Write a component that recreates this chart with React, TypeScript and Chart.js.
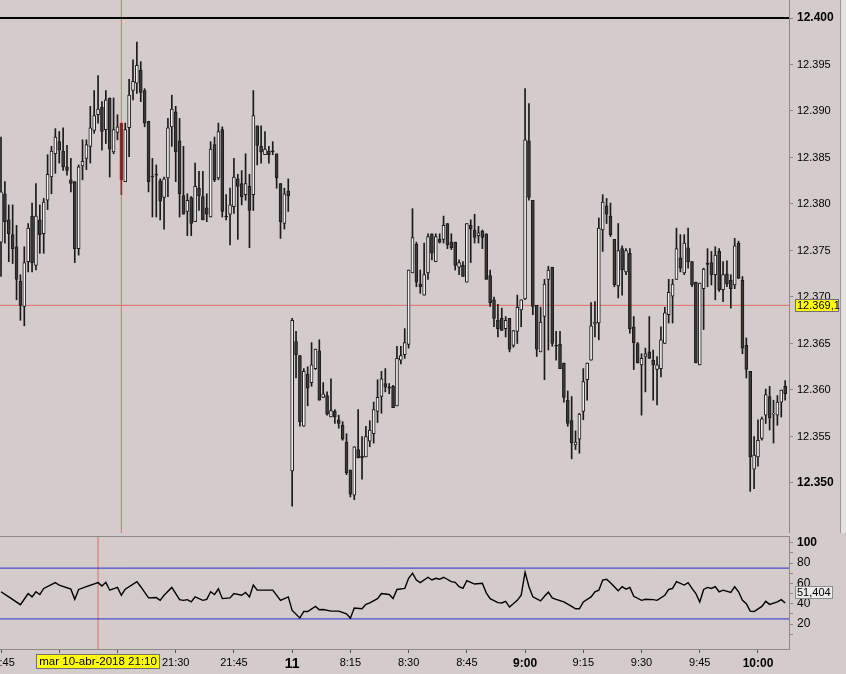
import React, { useEffect, useRef } from 'react';
import { Chart, Plugin } from 'chart.js/auto';

// 1-minute DAX bars, 10-abr-2018 20:45 -> 11-abr-2018 10:07 (bar index = minute slot)
const opens = [
    12375.9, 12381.1, 12378.3, 12376.7, 12375.4, 12371.7, 12369.0, 12373.8, 12378.7, 12373.4,
    12378.3, 12376.8, 12380.4, 12382.9, 12385.4, 12386.7, 12385.7, 12384.0, 12382.6, 12382.4,
    12375.2, 12384.1, 12384.9, 12386.2, 12387.9, 12389.6, 12390.4, 12388.0, 12391.4, 12385.6,
    12387.7, 12388.7, 12382.4, 12388.2, 12392.2, 12393.0, 12394.4, 12392.2, 12388.9, 12383.0,
    12383.2, 12382.5, 12380.7, 12382.8, 12388.3, 12389.9, 12386.8, 12380.9, 12379.2, 12380.7,
    12378.1, 12381.7, 12380.8, 12379.6, 12378.6, 12386.4, 12382.8, 12388.0, 12378.6, 12378.9,
    12379.7, 12382.7, 12382.2, 12381.0, 12381.9, 12381.0, 12388.4, 12386.2, 12385.3, 12385.7,
    12385.6, 12385.4, 12382.2, 12377.9, 12381.4, 12351.3, 12365.2, 12363.7, 12356.1, 12361.7,
    12360.8, 12362.3, 12364.2, 12359.2, 12359.4, 12357.1, 12357.7, 12356.8, 12356.2, 12354.4,
    12351.4, 12348.7, 12353.6, 12352.9, 12352.8, 12354.5, 12355.3, 12357.7, 12359.3, 12360.7,
    12360.2, 12360.4, 12358.3, 12363.2, 12363.8, 12364.9, 12372.6, 12375.7, 12371.4, 12370.2,
    12372.6, 12376.8, 12373.8, 12376.2, 12376.2, 12377.9, 12375.9, 12375.9, 12373.2, 12373.4,
    12371.6, 12377.7, 12377.2, 12376.6, 12377.1, 12376.8, 12372.3, 12369.7, 12367.5, 12367.7,
    12366.6, 12367.7, 12364.8, 12366.3, 12368.6, 12369.8, 12386.8, 12380.4, 12369.1, 12364.1,
    12367.9, 12371.9, 12373.2, 12364.7, 12364.9, 12362.9, 12358.9, 12356.7, 12354.1, 12354.7,
    12357.7, 12361.1, 12363.2, 12367.1, 12367.2, 12377.2, 12379.8, 12378.7, 12376.2, 12371.2,
    12375.2, 12372.7, 12374.7, 12366.8, 12365.0, 12362.7, 12363.6, 12364.1, 12363.2, 12362.2,
    12362.3, 12365.0, 12368.1, 12370.1, 12371.9, 12374.2, 12372.6, 12375.3, 12373.8, 12371.6,
    12362.7, 12370.9, 12373.5, 12373.7, 12372.4, 12374.9, 12370.8, 12372.5, 12371.8, 12371.3,
    12375.8, 12371.8, 12364.8, 12362.0, 12351.5, 12352.8, 12354.8, 12357.3, 12359.3, 12357.4,
    12357.3, 12358.7, 12360.4,
];
const highs = [
    12387.2, 12382.4, 12379.9, 12379.9, 12377.7, 12372.4, 12375.4, 12377.9, 12380.1, 12382.2,
    12379.9, 12380.6, 12385.3, 12386.2, 12388.1, 12387.8, 12388.2, 12386.3, 12384.9, 12382.4,
    12384.2, 12386.9, 12386.9, 12390.5, 12392.2, 12393.8, 12391.0, 12392.2, 12391.4, 12391.4,
    12389.6, 12388.7, 12388.7, 12393.4, 12395.5, 12397.4, 12395.3, 12392.4, 12388.9, 12384.9,
    12384.2, 12382.7, 12382.9, 12389.2, 12391.7, 12390.5, 12389.2, 12386.2, 12381.1, 12380.8,
    12384.4, 12383.5, 12383.5, 12381.1, 12386.7, 12387.2, 12388.7, 12388.3, 12381.0, 12381.7,
    12384.9, 12383.2, 12383.6, 12385.4, 12383.2, 12392.2, 12388.4, 12388.4, 12387.8, 12386.2,
    12386.7, 12385.4, 12382.2, 12381.7, 12382.7, 12367.7, 12366.3, 12363.7, 12362.3, 12362.5,
    12365.1, 12364.4, 12365.4, 12360.8, 12359.8, 12361.2, 12357.9, 12357.3, 12356.6, 12355.3,
    12351.4, 12353.9, 12357.9, 12355.0, 12356.1, 12356.7, 12358.7, 12361.1, 12362.0, 12362.3,
    12360.7, 12360.5, 12364.7, 12364.7, 12366.6, 12372.9, 12379.5, 12375.9, 12372.9, 12375.8,
    12376.8, 12376.8, 12376.8, 12376.8, 12378.7, 12377.9, 12376.8, 12375.9, 12374.0, 12373.8,
    12377.9, 12378.3, 12378.9, 12377.6, 12377.2, 12376.8, 12372.9, 12370.0, 12369.2, 12368.8,
    12367.9, 12367.7, 12366.4, 12370.2, 12369.7, 12392.4, 12390.8, 12380.4, 12369.1, 12368.9,
    12371.9, 12373.3, 12373.2, 12366.3, 12366.3, 12362.9, 12359.9, 12359.3, 12355.6, 12357.5,
    12362.3, 12362.9, 12369.4, 12369.5, 12378.5, 12381.0, 12380.6, 12380.1, 12376.2, 12377.9,
    12375.5, 12375.2, 12375.2, 12367.9, 12365.1, 12363.9, 12364.5, 12367.9, 12364.3, 12363.6,
    12366.8, 12368.9, 12371.9, 12371.9, 12377.4, 12376.7, 12376.7, 12377.4, 12373.8, 12371.6,
    12371.5, 12373.1, 12375.2, 12374.9, 12375.4, 12375.2, 12373.8, 12373.9, 12372.4, 12376.3,
    12376.0, 12372.2, 12365.6, 12362.0, 12355.0, 12356.8, 12357.1, 12360.1, 12360.4, 12358.9,
    12359.4, 12360.0, 12361.0,
];
const lows = [
    12372.2, 12375.8, 12373.8, 12373.6, 12369.7, 12367.5, 12366.9, 12372.7, 12372.7, 12372.9,
    12374.7, 12374.7, 12379.4, 12381.1, 12383.3, 12384.4, 12383.6, 12383.1, 12381.3, 12373.7,
    12374.5, 12382.6, 12383.7, 12384.4, 12387.6, 12388.7, 12385.8, 12386.5, 12382.9, 12385.4,
    12386.9, 12381.0, 12382.4, 12385.1, 12391.2, 12391.9, 12391.0, 12388.3, 12381.3, 12378.6,
    12378.6, 12378.3, 12377.3, 12380.8, 12386.2, 12382.4, 12378.6, 12378.9, 12376.6, 12376.6,
    12378.1, 12379.3, 12378.3, 12378.1, 12378.6, 12382.4, 12382.6, 12378.6, 12378.3, 12375.6,
    12379.0, 12376.2, 12379.9, 12380.4, 12375.3, 12379.3, 12384.2, 12384.4, 12385.3, 12384.4,
    12385.3, 12381.7, 12376.3, 12377.3, 12379.2, 12347.5, 12361.3, 12356.1, 12356.1, 12358.3,
    12360.4, 12362.2, 12358.9, 12359.2, 12357.3, 12357.1, 12356.4, 12355.9, 12354.6, 12350.9,
    12348.5, 12348.2, 12352.7, 12350.4, 12352.8, 12353.9, 12354.3, 12356.5, 12357.5, 12359.8,
    12359.6, 12358.1, 12358.3, 12362.8, 12363.4, 12364.5, 12372.6, 12371.1, 12370.4, 12370.2,
    12371.9, 12374.0, 12373.8, 12375.8, 12375.8, 12375.2, 12375.1, 12372.9, 12372.4, 12372.2,
    12371.6, 12373.7, 12375.8, 12375.8, 12375.2, 12371.9, 12369.0, 12366.8, 12365.7, 12366.4,
    12365.7, 12364.1, 12364.6, 12365.0, 12366.8, 12369.7, 12380.4, 12368.1, 12363.6, 12364.1,
    12361.1, 12364.3, 12364.7, 12363.2, 12362.3, 12358.7, 12356.1, 12352.6, 12353.6, 12353.2,
    12356.8, 12358.9, 12363.2, 12365.7, 12365.4, 12374.9, 12377.9, 12376.5, 12371.1, 12369.9,
    12370.2, 12372.4, 12366.1, 12362.2, 12362.9, 12357.3, 12359.8, 12363.4, 12358.9, 12358.4,
    12361.4, 12365.0, 12367.2, 12367.2, 12371.9, 12372.7, 12372.4, 12373.1, 12371.1, 12362.9,
    12362.7, 12366.5, 12371.1, 12371.3, 12369.7, 12370.6, 12369.5, 12371.1, 12368.8, 12370.9,
    12372.0, 12363.9, 12361.3, 12349.1, 12349.4, 12351.8, 12354.6, 12356.4, 12355.7, 12354.3,
    12356.2, 12357.1, 12358.9,
];
const closes = [
    12381.3, 12378.1, 12376.8, 12375.2, 12371.9, 12369.1, 12373.7, 12377.4, 12373.7, 12378.7,
    12376.7, 12380.2, 12383.2, 12385.7, 12387.2, 12385.8, 12384.0, 12383.6, 12382.2, 12375.2,
    12384.0, 12384.6, 12386.4, 12388.2, 12389.5, 12390.2, 12387.8, 12391.2, 12385.9, 12388.0,
    12388.3, 12382.6, 12388.0, 12391.7, 12393.2, 12394.9, 12392.0, 12388.7, 12382.4, 12382.9,
    12383.1, 12380.3, 12382.7, 12388.2, 12390.2, 12385.6, 12381.1, 12378.9, 12380.4, 12377.9,
    12381.9, 12380.9, 12378.3, 12378.9, 12385.9, 12382.6, 12387.8, 12379.2, 12378.6, 12379.9,
    12382.9, 12381.9, 12380.8, 12382.2, 12379.3, 12389.5, 12386.3, 12385.6, 12385.9, 12385.3,
    12385.6, 12382.8, 12378.1, 12381.1, 12380.9, 12367.5, 12363.8, 12356.6, 12362.0, 12360.2,
    12362.7, 12364.4, 12358.9, 12359.6, 12357.4, 12357.8, 12357.1, 12356.4, 12354.7, 12351.1,
    12348.8, 12353.9, 12352.7, 12352.7, 12355.0, 12355.7, 12357.9, 12359.2, 12361.2, 12360.3,
    12360.2, 12358.1, 12363.4, 12363.7, 12365.1, 12372.9, 12376.4, 12371.6, 12371.1, 12372.4,
    12376.5, 12374.7, 12376.5, 12375.9, 12377.7, 12375.6, 12375.3, 12373.4, 12373.7, 12372.2,
    12377.9, 12377.3, 12376.4, 12376.9, 12376.4, 12371.9, 12369.4, 12367.7, 12366.6, 12366.4,
    12367.5, 12364.4, 12366.4, 12368.9, 12369.7, 12386.9, 12380.7, 12369.0, 12364.4, 12367.3,
    12371.4, 12372.9, 12365.0, 12364.7, 12362.3, 12359.2, 12356.4, 12354.3, 12354.4, 12357.4,
    12360.9, 12362.9, 12366.9, 12367.3, 12377.4, 12380.2, 12378.9, 12376.7, 12371.3, 12375.0,
    12372.9, 12375.0, 12366.6, 12365.1, 12362.9, 12363.4, 12363.9, 12363.4, 12362.7, 12362.7,
    12365.4, 12368.3, 12370.5, 12371.4, 12375.2, 12373.1, 12375.8, 12373.8, 12371.3, 12362.9,
    12371.5, 12373.0, 12373.5, 12372.4, 12374.5, 12370.8, 12372.4, 12371.4, 12370.9, 12375.5,
    12372.0, 12364.5, 12362.2, 12352.8, 12353.0, 12354.6, 12356.9, 12359.5, 12357.0, 12357.5,
    12358.7, 12360.0, 12359.6,
];

// oscillator vertices (bar index, value)
const oscBars = [
    0, 2, 5, 7, 8, 9, 10, 11, 14, 15, 18, 19, 20, 22, 25, 26, 27, 28, 30, 31,
    32, 35, 36, 38, 40, 41, 42, 44, 46, 47, 48, 49, 50, 52, 53, 54, 55, 56, 57, 59,
    60, 62, 63, 64, 65, 66, 70, 72, 74, 75, 77, 78, 79, 81, 82, 83, 85, 87, 89, 90,
    91, 93, 94, 95, 97, 98, 100, 101, 102, 104, 105, 106, 107, 108, 110, 111, 112, 113, 114, 116,
    117, 118, 119, 120, 121, 122, 124, 125, 126, 128, 129, 130, 131, 133, 134, 135, 136, 137, 139, 140,
    141, 142, 143, 145, 147, 148, 149, 150, 152, 153, 154, 155, 156, 157, 159, 160, 161, 162, 163, 165,
    166, 168, 169, 171, 172, 173, 174, 176, 177, 178, 179, 180, 181, 182, 183, 184, 185, 186, 188, 189,
    190, 191, 192, 193, 194, 196, 197, 198, 200, 201, 202,
];
const oscValues = [
    51.7, 46.7, 39, 50, 46.7, 51.7, 49, 55, 60.7, 58.3, 54.3, 44.3, 54, 56.7, 60.7, 57.3, 61, 53.3, 56, 48.3,
    54.3, 61.7, 56.7, 45.7, 46, 43.3, 48.3, 56, 44, 43.3, 44, 41.7, 46.7, 43.3, 44.3, 51.7, 49, 54.7, 45, 45.7,
    50, 48.3, 51, 46.7, 58.3, 53.3, 53.3, 43.3, 46.7, 33.3, 26, 32.3, 32.3, 37.3, 34, 34.3, 32.7, 32.7, 30, 25.7,
    35.7, 35, 39.3, 40.7, 45, 50, 49, 45, 54, 55, 65, 70, 63.3, 60.7, 66, 63.3, 65, 64, 66, 61.7,
    61, 56.7, 55, 62.7, 61, 59.3, 60, 50.7, 45, 41, 40.7, 42.3, 36.7, 43.3, 48.3, 71, 56.7, 46.7, 42.7, 47.3,
    51.3, 45.7, 44.3, 41.7, 37.3, 35, 35, 41.7, 46.7, 51.7, 53.3, 63.3, 64, 60.7, 52.7, 56.7, 54.3, 56, 47.3, 43.3,
    44.3, 44, 43.3, 48.3, 54, 55, 61.7, 58.3, 60.7, 55, 50, 41.7, 54, 56, 55, 56.7, 51.7, 53.3, 51, 56.7,
    51.7, 43.3, 40, 32.7, 32.3, 37.3, 42.3, 39.3, 41.7, 44, 40.7,
];
const oscBands = [75, 25];

const timeTickBars = [0, 15, 30, 45, 60, 75, 90, 105, 120, 135, 150, 165, 180, 195];
const timeTickLabels = ['20:45', '21:00', '21:15', '21:30', '21:45', '11', '8:15', '8:30', '8:45', '9:00', '9:15', '9:30', '9:45', '10:00'];
const priceTicks = [12350, 12355, 12360, 12365, 12370, 12375, 12380, 12385, 12390, 12395, 12400];
const oscTicks = [10, 20, 30, 40, 50, 60, 70, 80, 90, 100];

const topLevel = 12400;
const crossPrice = 12369.1;
const crossBarMain = 31;
const crossBarLower = 25;
const oscLast = 51.404;
const crossTimeText = 'mar 10-abr-2018 21:10';

const BG = '#d4cbcb';
const FRAME = '#8e8888';
const CROSS = '#e46a6a';
const FONT = '"Liberation Sans", Arial, sans-serif';
const X_MIN = -0.26;
const X_MAX = 202.99;
const MAIN_H = 534;
const PX_PER_POINT = 9.3;
const Y_MAX = topLevel + 18 / PX_PER_POINT;
const Y_MIN = Y_MAX - MAIN_H / PX_PER_POINT;
const OSC_MIN = -4.6;
const OSC_MAX = 106.6;

const fmtPrice = (v: number) => v.toLocaleString('de-DE', { minimumFractionDigits: 0, maximumFractionDigits: 0 });

function noPad(scale: any) {
    scale.paddingLeft = 0;
    scale.paddingRight = 0;
    scale.paddingTop = 0;
    scale.paddingBottom = 0;
}

const mainDecor: Plugin = {
    id: 'mainDecor',
    beforeDraw(chart) {
        const { ctx, width, height } = chart;
        ctx.save();
        ctx.fillStyle = BG;
        ctx.fillRect(0, 0, width, height);
        ctx.restore();
    },
    afterDraw(chart) {
        const { ctx, chartArea } = chart;
        const y = Math.round(chart.scales.y.getPixelForValue(crossPrice));
        ctx.save();
        ctx.strokeStyle = FRAME;
        ctx.lineWidth = 1;
        ctx.beginPath();
        ctx.moveTo(0, chartArea.bottom - 0.5);
        ctx.lineTo(chartArea.right, chartArea.bottom - 0.5);
        ctx.stroke();
        // right edge strip of the window
        ctx.fillStyle = '#e6e2e2';
        ctx.fillRect(841, 0, 5, chartArea.bottom);
        ctx.strokeStyle = '#9a9a9a';
        ctx.beginPath();
        ctx.moveTo(840.5, 0);
        ctx.lineTo(840.5, chartArea.bottom);
        ctx.stroke();
        // price label of the crosshair
        ctx.fillStyle = '#ffff00';
        ctx.fillRect(795, y - 6, 44, 13);
        ctx.strokeStyle = '#707070';
        ctx.strokeRect(795.5, y - 5.5, 43, 12);
        ctx.fillStyle = '#000';
        ctx.font = '11px ' + FONT;
        ctx.textBaseline = 'middle';
        ctx.fillText(crossPrice.toLocaleString('de-DE', { minimumFractionDigits: 1 }), 797, y + 1);
        ctx.restore();
    },
};

const lowerDecor: Plugin = {
    id: 'lowerDecor',
    beforeDraw(chart) {
        const { ctx, width, height } = chart;
        ctx.save();
        ctx.fillStyle = BG;
        ctx.fillRect(0, 0, width, height);
        ctx.restore();
    },
    afterDraw(chart) {
        const { ctx, chartArea } = chart;
        ctx.save();
        ctx.strokeStyle = FRAME;
        ctx.lineWidth = 1;
        ctx.beginPath();
        ctx.moveTo(0, chartArea.top + 0.5);
        ctx.lineTo(chartArea.right, chartArea.top + 0.5);
        ctx.stroke();
        ctx.font = '11px ' + FONT;
        ctx.textBaseline = 'middle';
        // current oscillator value
        const vy = Math.round(chart.scales.y.getPixelForValue(oscLast));
        const vText = oscLast.toLocaleString('de-DE', { minimumFractionDigits: 3 });
        const vw = Math.round(ctx.measureText(vText).width) + 4;
        ctx.fillStyle = '#ebebeb';
        ctx.fillRect(795, vy - 6, vw, 13);
        ctx.strokeStyle = '#8a8a8a';
        ctx.strokeRect(795.5, vy - 5.5, vw - 1, 12);
        ctx.fillStyle = '#000';
        ctx.fillText(vText, 797, vy + 1);
        // crosshair time label
        ctx.font = '11.5px ' + FONT;
        const cx = chart.scales.x.getPixelForValue(crossBarLower);
        const tw = ctx.measureText(crossTimeText).width + 6;
        const ty = chartArea.bottom + 5;
        ctx.fillStyle = '#ffff00';
        ctx.fillRect(cx - tw / 2, ty, tw, 15);
        ctx.strokeStyle = '#707070';
        ctx.strokeRect(Math.round(cx - tw / 2) + 0.5, ty + 0.5, Math.round(tw) - 1, 14);
        ctx.fillStyle = '#000';
        ctx.textAlign = 'center';
        ctx.fillText(crossTimeText, cx, ty + 8);
        ctx.restore();
    },
};

export default function App() {
    const mainRef = useRef<HTMLCanvasElement>(null);
    const lowerRef = useRef<HTMLCanvasElement>(null);

    useEffect(() => {
        if (!mainRef.current || !lowerRef.current) return;

        const bars = opens.map((_, i) => i);
        const isUp = (i: number) => closes[i] > opens[i];
        const isDoji = (i: number) => closes[i] === opens[i];
        const bodyFill = bars.map(i => (i === crossBarMain ? '#7e2323' : isDoji(i) ? '#1c1c1c' : isUp(i) ? '#f4f2f2' : '#3a3a3a'));
        const edge = bars.map(i => (i === crossBarMain ? '#8e2a2a' : '#1a1a1a'));

        const main = new Chart(mainRef.current, {
            type: 'bar',
            data: {
                datasets: [
                    {
                        type: 'bar',
                        data: bars.map(i => ({ x: i, y: [Math.min(opens[i], closes[i]), Math.max(opens[i], closes[i])] })) as any,
                        backgroundColor: bodyFill,
                        borderColor: edge,
                        borderWidth: 1,
                        borderSkipped: false,
                        barThickness: 3,
                        minBarLength: 1,
                        grouped: false,
                        order: 0,
                    },
                    {
                        type: 'bar',
                        data: bars.map(i => ({ x: i, y: [lows[i], highs[i]] })) as any,
                        backgroundColor: edge,
                        borderWidth: 0,
                        barThickness: 1,
                        grouped: false,
                        order: 1,
                    },
                    {
                        type: 'line',
                        data: [{ x: X_MIN, y: topLevel }, { x: X_MAX, y: topLevel }],
                        borderColor: '#000',
                        borderWidth: 2,
                        pointRadius: 0,
                        order: 2,
                    },
                    {
                        type: 'line',
                        data: [{ x: X_MIN, y: crossPrice }, { x: X_MAX, y: crossPrice }],
                        borderColor: CROSS,
                        borderWidth: 1,
                        pointRadius: 0,
                        order: 2,
                    },
                    {
                        type: 'line',
                        data: [{ x: crossBarMain, y: Y_MIN }, { x: crossBarMain, y: Y_MAX }],
                        borderColor: CROSS,
                        borderWidth: 1,
                        pointRadius: 0,
                        order: 2,
                    },
                ],
            },
            options: {
                animation: false,
                responsive: false,
                events: [],
                layout: { padding: 0 },
                plugins: { legend: { display: false }, tooltip: { enabled: false } },
                scales: {
                    x: { type: 'linear', min: X_MIN, max: X_MAX, display: false, offset: false },
                    y: {
                        type: 'linear',
                        position: 'right',
                        min: Y_MIN,
                        max: Y_MAX,
                        afterBuildTicks: (s: any) => { s.ticks = priceTicks.map(v => ({ value: v })); },
                        afterFit: (s: any) => { s.width = 57; noPad(s); },
                        border: { color: FRAME },
                        grid: { drawOnChartArea: false, tickLength: 4, color: FRAME },
                        ticks: {
                            autoSkip: false,
                            padding: 4,
                            color: '#000',
                            callback: v => fmtPrice(Number(v)),
                            font: (c: any) => (c.tick && c.tick.value % 50 === 0
                                ? { family: FONT, size: 12, weight: 'bold' }
                                : { family: FONT, size: 11 }),
                        },
                    },
                },
            },
            plugins: [mainDecor],
        });

        const lower = new Chart(lowerRef.current, {
            type: 'line',
            data: {
                datasets: [
                    {
                        data: oscBars.map((b, i) => ({ x: b, y: oscValues[i] })),
                        borderColor: '#000',
                        borderWidth: 1.4,
                        pointRadius: 0,
                        tension: 0,
                        order: 0,
                    },
                    ...oscBands.map(level => ({
                        data: [{ x: X_MIN, y: level }, { x: X_MAX, y: level }],
                        borderColor: '#2c2cd0',
                        borderWidth: 1,
                        pointRadius: 0,
                        order: 1,
                    })),
                    {
                        data: [{ x: crossBarLower, y: OSC_MIN }, { x: crossBarLower, y: OSC_MAX }],
                        borderColor: CROSS,
                        borderWidth: 1,
                        pointRadius: 0,
                        order: 1,
                    },
                ],
            },
            options: {
                animation: false,
                responsive: false,
                events: [],
                layout: { padding: { top: 3 } },
                plugins: { legend: { display: false }, tooltip: { enabled: false } },
                scales: {
                    x: {
                        type: 'linear',
                        min: X_MIN,
                        max: X_MAX,
                        offset: false,
                        afterBuildTicks: (s: any) => { s.ticks = timeTickBars.map(v => ({ value: v })); },
                        afterFit: (s: any) => { s.height = 25; noPad(s); },
                        border: { color: FRAME },
                        grid: { drawOnChartArea: false, tickLength: 4, color: '#555' },
                        ticks: {
                            autoSkip: false,
                            maxRotation: 0,
                            minRotation: 0,
                            padding: 3,
                            color: '#000',
                            callback: v => timeTickLabels[timeTickBars.indexOf(Number(v))] ?? '',
                            font: (c: any) => {
                                const v = c.tick ? c.tick.value : 0;
                                if (v === 75) return { family: FONT, size: 14, weight: 'bold' };
                                if (v === 135 || v === 195) return { family: FONT, size: 12, weight: 'bold' };
                                return { family: FONT, size: 11 };
                            },
                        },
                    },
                    y: {
                        type: 'linear',
                        position: 'right',
                        min: OSC_MIN,
                        max: OSC_MAX,
                        afterBuildTicks: (s: any) => { s.ticks = oscTicks.map(v => ({ value: v })); },
                        afterFit: (s: any) => { s.width = 57; noPad(s); },
                        border: { color: FRAME },
                        grid: { drawOnChartArea: false, tickLength: 4, color: FRAME },
                        ticks: {
                            autoSkip: false,
                            padding: 4,
                            color: '#000',
                            callback: v => (Number(v) % 20 === 0 ? String(v) : ''),
                            font: (c: any) => (c.tick && c.tick.value === 100
                                ? { family: FONT, size: 12, weight: 'bold' }
                                : { family: FONT, size: 12 }),
                        },
                    },
                },
            },
            plugins: [lowerDecor],
        });

        return () => {
            main.destroy();
            lower.destroy();
        };
    }, []);

    return (
        <div style={{ position: 'fixed', left: 0, top: 0, width: 846, height: 674, background: BG, overflow: 'hidden' }}>
            <canvas ref={mainRef} width={846} height={MAIN_H} style={{ position: 'absolute', left: 0, top: 0, width: 846, height: MAIN_H }} />
            <canvas ref={lowerRef} width={846} height={141} style={{ position: 'absolute', left: 0, top: 533, width: 846, height: 141 }} />
        </div>
    );
}
